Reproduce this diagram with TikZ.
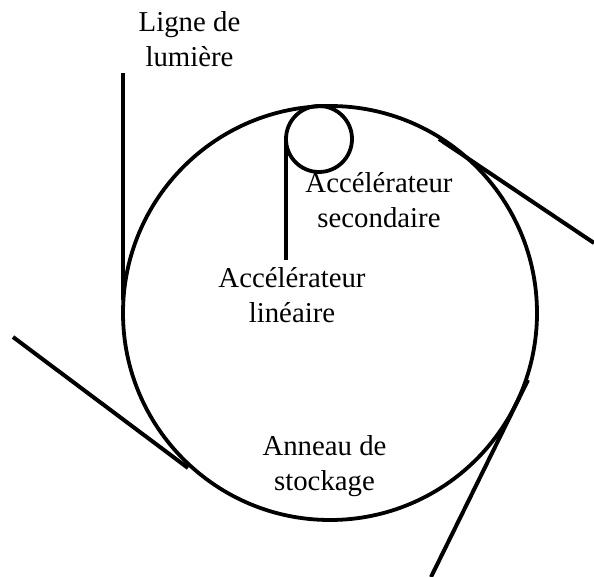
\documentclass[tikz,border=0pt]{standalone}
\usepackage{fontspec}
\setmainfont{Liberation Serif}
\tikzset{ring/.style={draw=black,line width=3.8pt},beam/.style={draw=black,line width=4pt},lab/.style={align=center,font=\fontsize{28.8}{35}\selectfont,inner sep=0pt,text=black,anchor=base}}
\begin{document}
\begin{tikzpicture}[x=1pt,y=-1pt]
\useasboundingbox (0,0) rectangle (594,577);
\coordinate (c) at (330,313);
\draw[ring] (c) circle (207);
\draw[ring] (319,139) circle (33);
\coordinate (a1) at (123,73); \coordinate (a2) at (123,300);
\draw[beam] (a1) -- (a2);
\coordinate (b1) at (286,139); \coordinate (b2) at (286,260);
\draw[beam] (b1) -- (b2);
\coordinate (d1) at (439,139); \coordinate (d2) at (594,243);
\draw[beam] (d1) -- (d2);
\coordinate (e1) at (13,337); \coordinate (e2) at (188,468);
\draw[beam] (e1) -- (e2);
\coordinate (f1) at (528,380); \coordinate (f2) at (431,577);
\draw[beam] (f1) -- (f2);
\node[lab] (t1) at (189.5,67) {Ligne de~\\lumière};
\node[lab] (t2) at (379,228) {Accélérateur~\\secondaire};
\node[lab] (t3) at (292,322) {Accélérateur~\\linéaire};
\node[lab] (t4) at (324.5,490) {Anneau de\\stockage};
\end{tikzpicture}
\end{document}
